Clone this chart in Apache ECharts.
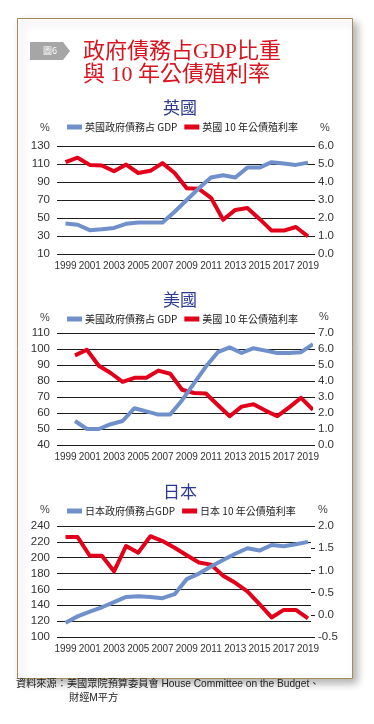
<!DOCTYPE html>
<html><head><meta charset="utf-8">
<script src="https://cdn.jsdelivr.net/npm/echarts@6/dist/echarts.min.js"></script>
<style>html,body{margin:0;padding:0;background:#fff;}#c{width:374px;height:724px;}</style>
</head><body><div id="c"></div>
<script>
// ---------- data ----------
const years = [1999,2000,2001,2002,2003,2004,2005,2006,2007,2008,2009,2010,2011,2012,2013,2014,2015,2016,2017,2018,2019];
const xTickLabels = [1999,2001,2003,2005,2007,2009,2011,2013,2015,2017,2019];

const ukNames = ['英國政府債務占 GDP', '英國 10 年公債殖利率'];
const ukDebt  = [44, 42.5, 36.5, 37.5, 39, 43.5, 45, 45, 45, 57, 70, 83, 95, 97.5, 95, 106, 106, 112, 110.5, 109, 111.5];
const ukYield = [5.1, 5.35, 4.95, 4.92, 4.6, 4.97, 4.5, 4.62, 5.05, 4.5, 3.65, 3.62, 3.12, 1.9, 2.45, 2.55, 1.95, 1.3, 1.3, 1.5, 0.98];
const ukLeftAxis  = [10, 130, 20];
const ukRightAxis = [0, 6, 1];

const usNames = ['美國政府債務占 GDP', '美國 10 年公債殖利率'];
const usDebt  = [55, 50, 50, 53, 55, 63, 61, 59, 59, 68, 78.5, 89, 98, 101, 97.5, 100.5, 99, 97.5, 97.5, 98, 103];
const usYield = [5.6, 5.95, 4.95, 4.5, 3.95, 4.2, 4.2, 4.65, 4.45, 3.45, 3.25, 3.22, 2.5, 1.8, 2.4, 2.55, 2.15, 1.8, 2.35, 2.95, 2.2];
const usLeftAxis  = [40, 110, 10];
const usRightAxis = [0, 7, 1];

const jpNames = ['日本政府債務占GDP', '日本 10 年公債殖利率'];
const jpDebt  = [118, 126, 132, 137.5, 144, 150.5, 151.5, 150.5, 149, 154, 173, 180, 189, 197, 205, 212, 209, 216, 214.5, 217, 220];
const jpYield = [1.75, 1.75, 1.33, 1.33, 0.98, 1.55, 1.4, 1.77, 1.66, 1.51, 1.34, 1.18, 1.13, 0.88, 0.72, 0.53, 0.24, -0.06, 0.11, 0.11, -0.08];
const jpLeftAxis  = [100, 240, 20];
const jpRightAxis = [-0.5, 2.0, 0.5];

const subTitles = ['英國', '美國', '日本'];
const titleLines = ['政府債務占GDP比重', '與 10 年公債殖利率'];
const sourceLines = ['資料來源：美國眾院預算委員會 House Committee on the Budget、', '財經M平方'];

// ---------- styling ----------
const BLUE = '#7090cc', RED = '#e2001a', GRID = '#1e1e1e', TXT = '#333';
const GL = 57, GR = 311;
function hasFont(name){
  const c = document.createElement('canvas').getContext('2d');
  c.font = '40px monospace'; const a = c.measureText('1999abc').width;
  c.font = '40px "' + name + '", monospace'; const b = c.measureText('1999abc').width;
  return a !== b;
}
const xFont = hasFont('Liberation Sans Narrow') ? '"Liberation Sans Narrow"' : '"Liberation Sans"';
const xFontSize = hasFont('Liberation Sans Narrow') ? 11 : 10;
const sans = '"Liberation Sans","Noto Sans CJK TC",sans-serif';
const cjk = '"Noto Sans CJK TC","Liberation Sans",sans-serif';

function xRange(p0, p1){
  const n = years.length - 1;
  const step = (p1 - p0) / n;
  return { min: years[0] - (p0 - GL) / step, max: years[n] + (GR - p1) / step };
}
const lblRange = xRange(65.5, 308);
const usDataRange = xRange(75, 313);

const pairs = arr => years.map((y, i) => [y, arr[i]]);

function xAxisLabeled(gridIndex, r){
  return {
    type: 'value', gridIndex, min: r.min, max: r.max,
    axisLine: {show: false}, axisTick: {show: false}, splitLine: {show: false},
    axisLabel: {customValues: xTickLabels, formatter: v => String(v), margin: 7,
      fontSize: xFontSize, fontFamily: xFont, color: TXT}
  };
}
function leftY(gridIndex, a){
  return {
    type: 'value', gridIndex, min: a[0], max: a[1], interval: a[2], position: 'left',
    axisLine: {show: false}, axisTick: {show: false},
    splitLine: {show: true, lineStyle: {color: GRID, width: 1}},
    axisLabel: {margin: 7, fontSize: 11.5, fontFamily: sans, color: TXT}
  };
}
function rightY(gridIndex, a){
  return {
    type: 'value', gridIndex, min: a[0], max: a[1], interval: a[2], position: 'right',
    axisLine: {show: false},
    axisTick: {show: true, length: 4, lineStyle: {color: GRID, width: 1}},
    splitLine: {show: false},
    axisLabel: {margin: 7, fontSize: 11.5, fontFamily: sans, color: TXT, formatter: v => v.toFixed(1)}
  };
}
function line(name, data, color, xi, yi, z){
  return {
    type: 'line', name, data: pairs(data), xAxisIndex: xi, yAxisIndex: yi,
    symbol: 'none', showSymbol: false, clip: false, z,
    lineStyle: {color, width: 4, cap: 'butt', join: 'round'},
    itemStyle: {color}
  };
}
function legend(names, top){
  return {
    data: names, top, left: 67, icon: 'rect', itemWidth: 15, itemHeight: 5,
    itemGap: 7, selectedMode: false, padding: 0,
    textStyle: {fontSize: 10, fontFamily: cjk, color: '#222', padding: [0,0,0,-2]}
  };
}
function txt(text, x, y, size, color, family, align, extra){
  return {type: 'text', x, y, silent: true, z: 10,
    style: Object.assign({text, fontSize: size, fill: color, fontFamily: family,
      align: align || 'left', verticalAlign: 'middle'}, extra || {})};
}

const option = {
  animation: false,
  backgroundColor: '#fff',
  grid: [
    {left: GL, width: GR - GL, top: 146, height: 108},
    {left: GL, width: GR - GL, top: 333, height: 112},
    {left: GL, width: GR - GL, top: 526, height: 111}
  ],
  xAxis: [
    xAxisLabeled(0, lblRange),
    xAxisLabeled(1, lblRange),
    Object.assign(xAxisLabeled(1, usDataRange), {show: false}),
    xAxisLabeled(2, lblRange)
  ],
  yAxis: [
    leftY(0, ukLeftAxis), rightY(0, ukRightAxis),
    leftY(1, usLeftAxis), rightY(1, usRightAxis),
    leftY(2, jpLeftAxis), rightY(2, jpRightAxis)
  ],
  legend: [legend(ukNames, 122), legend(usNames, 314), legend(jpNames, 506)],
  series: [
    line(ukNames[1], ukYield, RED, 0, 1, 2),
    line(ukNames[0], ukDebt, BLUE, 0, 0, 3),
    line(usNames[1], usYield, RED, 2, 3, 2),
    line(usNames[0], usDebt, BLUE, 2, 2, 3),
    line(jpNames[1], jpYield, RED, 3, 5, 2),
    line(jpNames[0], jpDebt, BLUE, 3, 4, 3)
  ],
  graphic: [
    {type: 'rect', z: -10, silent: true,
      shape: {x: 17.5, y: 18.5, width: 335, height: 660},
      style: {fill: '#fff', stroke: '#a88b5c', lineWidth: 1,
        shadowBlur: 8, shadowColor: 'rgba(0,0,0,0.3)', shadowOffsetX: 4, shadowOffsetY: 4}},
    {type: 'polygon', z: 5, silent: true,
      shape: {points: [[30,42],[63,42],[70,51],[63,60],[30,60]]},
      style: {fill: '#a6a6a6'}},
    txt('圖6', 50, 51, 9, '#fff', cjk, 'center'),
    txt(titleLines[0], 83, 52, 22, '#d6151f', '"Liberation Serif","Noto Sans CJK TC",serif'),
    txt(titleLines[1], 83, 75.5, 22, '#d6151f', '"Liberation Serif","Noto Sans CJK TC",serif'),
    txt(subTitles[0], 180, 108, 17, '#2b3a8f', cjk, 'center'),
    txt(subTitles[1], 180, 300, 17, '#2b3a8f', cjk, 'center'),
    txt(subTitles[2], 180, 492, 17, '#2b3a8f', cjk, 'center'),
    txt('%', 45, 128, 11, '#444', sans, 'center'),
    txt('%', 325, 128, 11, '#444', sans, 'center'),
    txt('%', 45, 318, 11, '#444', sans, 'center'),
    txt('%', 324, 317, 11, '#444', sans, 'center'),
    txt('%', 45, 510, 11, '#444', sans, 'center'),
    txt('%', 323, 510, 11, '#444', sans, 'center'),
    txt(sourceLines[0], 16, 684, 10.2, '#222', sans),
    txt(sourceLines[1], 69, 698, 10.2, '#222', sans)
  ]
};
const chart = echarts.init(document.getElementById('c'));
chart.setOption(option);
</script>
</body></html>
